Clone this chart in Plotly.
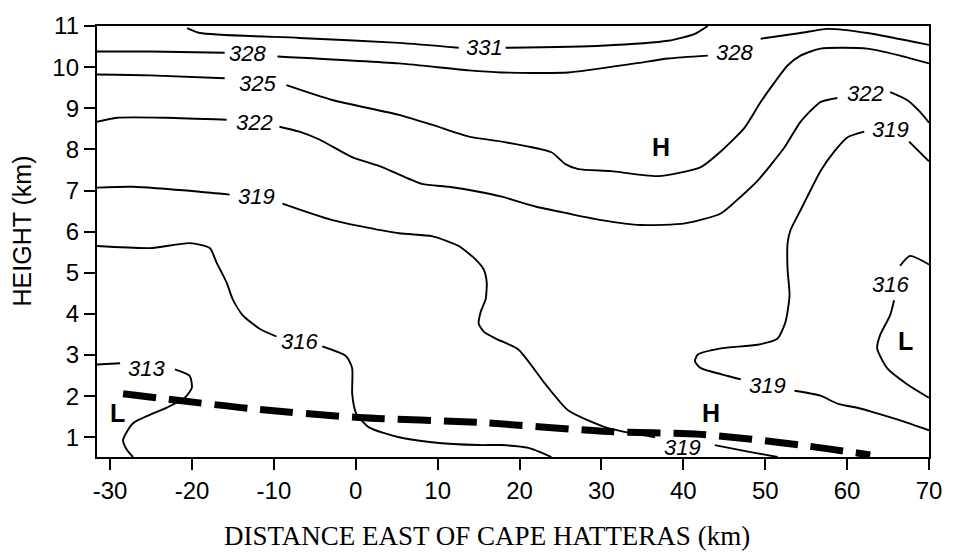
import plotly.graph_objects as go

# ---------------- data (km, km) ----------------
x_ticks = [-30, -20, -10, 0, 10, 20, 30, 40, 50, 60, 70]
y_ticks = [1, 2, 3, 4, 5, 6, 7, 8, 9, 10, 11]

# theta-e contours; None marks the gap where a label sits
c331_x = [-20.6, -19.05, -6.89, 5.28, 12.58, None, 18.30, 29.98, 38.13, 41.41, 42.99]
c331_y = [10.95, 10.83, 10.71, 10.59, 10.47, None, 10.47, 10.52, 10.64, 10.81, 11.0]

c328_x = [-31.6, -25.13, -16.01, None, -9.56, 5.28, 13.80, 17.81, 25.96, 34.11, 38.13, 42.99,
          None, 49.44, 54.31, 57.59, 62.46, 70.0]
c328_y = [10.38, 10.38, 10.35, None, 10.26, 10.09, 9.92, 9.87, 9.87, 10.09, 10.21, 10.28,
          None, 10.69, 10.83, 10.93, 10.83, 10.54]

c325_x = [-31.6, -25.13, -16.01, None, -8.47, -2.87, 5.28, 9.29, 13.80, 17.81, 23.89, 25.60,
          27.18, 31.19, 36.91, 42.14, 44.57, 47.49, 49.44, 51.14, 52.73, 54.31, 56.74,
          62.46, 66.47, 70.0]
c325_y = [9.82, 9.80, 9.73, None, 9.56, 9.20, 8.84, 8.60, 8.31, 8.19, 7.93, 7.64,
          7.52, 7.47, 7.35, 7.57, 7.95, 8.53, 9.15, 9.63, 10.04, 10.28, 10.45,
          10.45, 10.28, 10.09]

c322_x = [-31.6, -29.15, -23.07, -15.77, None, -9.32, -6.89, -4.45, -0.44, 3.21, 8.08, 11.36,
          15.01, 17.81, 21.95, 25.96, 29.98, 34.84, 40.19, 44.57, 47.01, 49.08, 52.36,
          54.31, 56.74, 58.81, None, 65.26, 67.32, 68.91, 70.0]
c322_y = [8.67, 8.77, 8.77, 8.72, None, 8.55, 8.43, 8.24, 7.81, 7.57, 7.16, 7.09,
          6.97, 6.85, 6.61, 6.44, 6.28, 6.16, 6.20, 6.44, 6.85, 7.24, 8.05,
          8.67, 9.15, 9.25, None, 9.39, 9.20, 8.91, 8.65]

c319a_x = [-31.6, -27.20, -19.05, -15.40, None, -8.95, -2.87, 5.28, 9.29, 12.58, 14.65,
           15.62, 15.99, 15.86, 15.26, 15.01, 15.62, 17.08, 19.88, 23.16, 25.96, 30.83,
           36.55, None, 43.84, 48.22, 51.51]
c319a_y = [7.07, 7.09, 6.97, 6.90, None, 6.68, 6.28, 5.96, 5.89, 5.65, 5.32,
           5.08, 4.77, 4.36, 4.05, 3.76, 3.57, 3.40, 3.13, 2.29, 1.65, 1.22,
           1.00, None, 0.81, 0.64, 0.52]

c319b_x = [70.0, 67.57, None, 62.09, 60.02, 58.44, 56.74, 55.52, 54.31, 53.09, 52.73,
           52.73, 52.97, 52.48, 51.51, 49.08, 44.57, 41.78, 41.41, 42.14, 45.43, 47.01,
           None, 53.58, 56.74, 58.81, 61.61, 63.31, 66.47, 70.0]
c319b_y = [7.71, 8.19, None, 8.43, 8.29, 7.95, 7.47, 7.00, 6.52, 6.04, 5.72,
           5.08, 4.45, 3.81, 3.40, 3.25, 3.16, 3.01, 2.85, 2.68, 2.49, 2.41,
           None, 2.13, 2.01, 1.82, 1.70, 1.60, 1.41, 1.17]

c316a_x = [-31.6, -25.13, -20.27, -17.83, -16.98, -15.77, -15.04, -13.82, -11.75, -9.68,
           None, -4.09, -1.17, -0.44, -0.44, 0.05, 1.63, 5.28, 9.29, 15.01, 17.81, 21.09, 23.89]
c316a_y = [5.65, 5.60, 5.72, 5.60, 5.24, 4.76, 4.36, 3.97, 3.64, 3.45,
           None, 3.21, 2.97, 2.68, 2.06, 1.58, 1.24, 1.00, 0.88, 0.81, 0.81, 0.74, 0.52]

c316b_x = [70.0, 67.69, 66.47, None, 65.74, 65.26, 64.04, 63.67, 64.89, 67.32, 70.0]
c316b_y = [5.20, 5.41, 5.17, None, 4.33, 3.97, 3.49, 3.16, 2.68, 2.29, 1.96]

c313_x = [-31.6, -28.78, None, -22.09, -20.27, -20.02, -20.88, -23.07, -27.20, -28.42, -27.93, -27.20]
c313_y = [2.77, 2.80, None, 2.65, 2.49, 2.20, 1.96, 1.72, 1.34, 0.93, 0.69, 0.52]

# frontal (dashed) line
front_x = [-28.42, -12.97, 0.41, 15.01, 30.83, 42.14, 54.31, 62.82]
front_y = [2.06, 1.70, 1.48, 1.36, 1.14, 1.07, 0.81, 0.57]

# contour labels
lab_text = ["331", "328", "328", "325", "322", "322", "319", "319", "319", "319", "316", "316", "313"]
lab_x = [15.74, -13.21, 46.28, -12.0, -12.36, 62.21, -12.12, 39.95, 65.26, 50.29, -6.89, 65.26, -25.50]
lab_y = [10.47, 10.33, 10.35, 9.61, 8.65, 9.37, 6.85, 0.76, 8.48, 2.25, 3.33, 4.72, 2.68]

# highs and lows
hl_text = ["H", "H", "L", "L"]
hl_x = [37.27, 43.36, -29.15, 67.08]
hl_y = [8.05, 1.58, 1.58, 3.33]

# ---------------- figure ----------------
fig = go.Figure()
contours = [(c331_x, c331_y), (c328_x, c328_y), (c325_x, c325_y), (c322_x, c322_y),
            (c319a_x, c319a_y), (c319b_x, c319b_y), (c316a_x, c316a_y), (c316b_x, c316b_y),
            (c313_x, c313_y)]
for cx, cy in contours:
    fig.add_trace(go.Scatter(x=cx, y=cy, mode="lines",
                             line=dict(color="black", width=1.9, shape="spline", smoothing=0.6),
                             connectgaps=False, showlegend=False, hoverinfo="skip"))

fig.add_trace(go.Scatter(x=front_x, y=front_y, mode="lines",
                         line=dict(color="black", width=7, dash="33px,13px", shape="spline", smoothing=0.8),
                         showlegend=False, hoverinfo="skip"))

for t, x, y in zip(lab_text, lab_x, lab_y):
    fig.add_annotation(x=x, y=y, text="<i>" + t + "</i>", showarrow=False,
                       font=dict(family="Arial", size=22, color="black"))
for t, x, y in zip(hl_text, hl_x, hl_y):
    fig.add_annotation(x=x, y=y, text="<b>" + t + "</b>", showarrow=False,
                       font=dict(family="Arial", size=25, color="black"))

fig.add_annotation(xref="paper", yref="paper", x=-0.0898, y=0.524, xanchor="center", yanchor="middle",
                   text="HEIGHT (km)", textangle=-90,
                   showarrow=False, font=dict(family="Arial", size=25, color="black"))
fig.add_annotation(xref="paper", yref="paper", x=0.469, y=-0.183, xanchor="center", yanchor="middle",
                   text="DISTANCE EAST OF CAPE HATTERAS (km)", showarrow=False,
                   font=dict(family="Liberation Serif", size=27, color="black"))

fig.update_layout(
    width=954, height=552,
    margin=dict(l=97, r=22, t=20, b=95),
    paper_bgcolor="white", plot_bgcolor="white",
    xaxis=dict(range=[-31.6, 70], tickvals=x_ticks, ticktext=[str(v) for v in x_ticks],
               showgrid=False, zeroline=False, showline=True, linecolor="black", linewidth=2.4,
               mirror=True, ticks="outside", ticklen=11, tickwidth=2, tickcolor="black",
               tickfont=dict(family="Arial", size=24, color="black")),
    yaxis=dict(range=[0.52, 11], tickvals=y_ticks, ticktext=[str(v) for v in y_ticks],
               showgrid=False, zeroline=False, showline=True, linecolor="black", linewidth=2.4,
               mirror=True, ticks="outside", ticklen=11, tickwidth=2, tickcolor="black",
               tickfont=dict(family="Arial", size=24, color="black")),
)

fig.write_html("out.html")
